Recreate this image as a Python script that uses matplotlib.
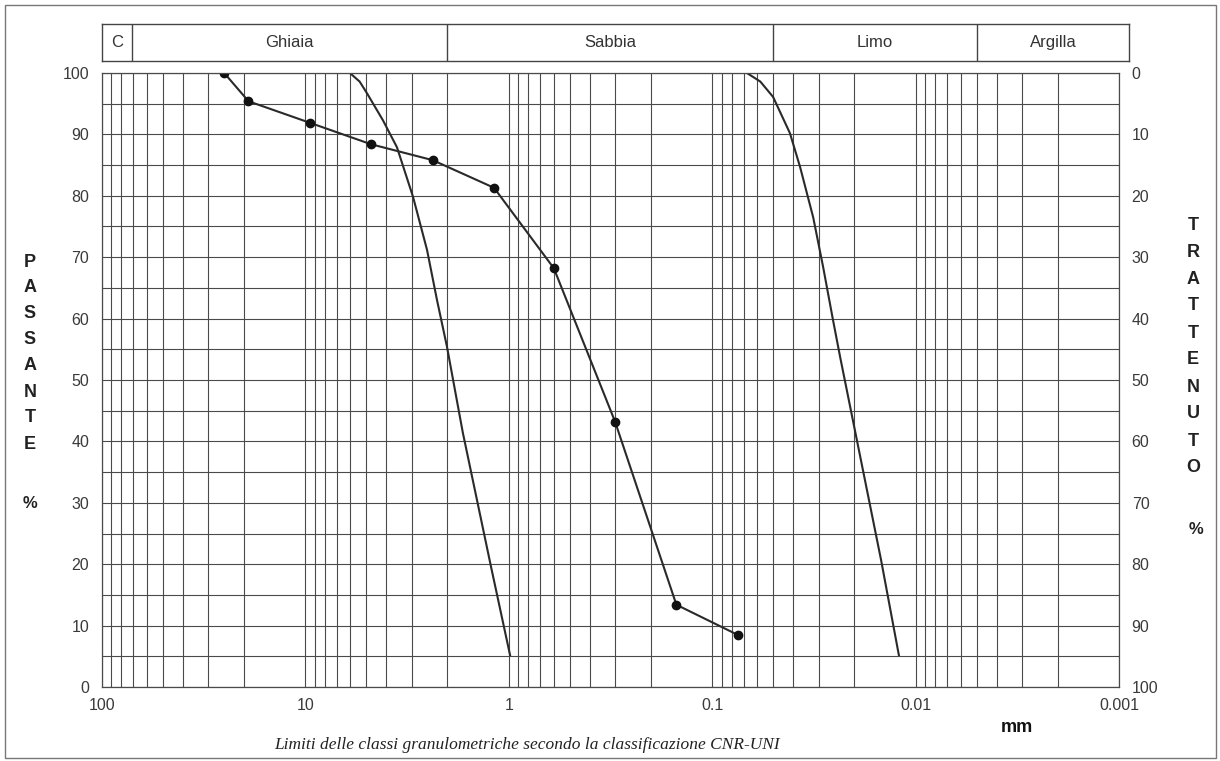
import numpy as np
import matplotlib.pyplot as plt
from matplotlib.ticker import LogLocator, FixedLocator, NullFormatter

plt.rcParams.update({
    "font.family": ["Liberation Sans", "DejaVu Sans"],
    "font.size": 11,
})

# classi granulometriche CNR-UNI (limiti in mm)
class_names = ["C", "Ghiaia", "Sabbia", "Limo", "Argilla"]
class_limits = [71, 2, 0.05, 0.005]

x_ticks = [100, 10, 1, 0.1, 0.01, 0.001]
x_labels = ["100", "10", "1", "0.1", "0.01", "0.001"]
y_ticks = list(range(0, 101, 10))

# curva granulometrica con punti (setacci)
sieve_mm = [25, 19, 9.5, 4.75, 2.36, 1.18, 0.6, 0.3, 0.15, 0.075]
sieve_pass = [100, 95.4, 91.9, 88.4, 85.8, 81.3, 68.2, 43.2, 13.4, 8.5]

# fuso sinistro
left_mm = [6.03, 5.4, 4.97, 4.15, 3.54, 2.95, 2.52, 2.25, 2.01, 1.68, 1.22, 0.985]
left_pass = [100, 98.6, 96.7, 92.3, 87.9, 79.8, 71.2, 63.0, 55.4, 41.4, 19.5, 5.2]

# fuso destro
right_mm = [0.0675, 0.058, 0.0502, 0.0415, 0.0370, 0.0319, 0.0285, 0.0255, 0.0235, 0.0148, 0.0121]
right_pass = [100, 98.6, 96.1, 90.2, 84.7, 76.5, 68.4, 59.8, 53.7, 20.7, 5.2]

W, H = 1220, 761
fig = plt.figure(figsize=(W / 100, H / 100), dpi=100)

def fx(px):
    return px / W

def fy(py):
    return 1 - py / H

# area del grafico
x0, x1 = 101.7, 1119.2
y_top, y_bot = 73, 687
ax = fig.add_axes([fx(x0), fy(y_bot), fx(x1) - fx(x0), fy(y_top) - fy(y_bot)])
ax.set_xscale("log")
ax.set_xlim(100, 0.001)
ax.set_ylim(0, 100)

grid_col = "#4a4a4a"
ax.xaxis.set_major_locator(FixedLocator(x_ticks))
ax.xaxis.set_minor_locator(LogLocator(base=10, subs=np.arange(2, 10)))
ax.xaxis.set_minor_formatter(NullFormatter())
ax.set_xticklabels(x_labels)
ax.set_yticks(y_ticks)
ax.set_yticks(np.arange(5, 100, 10), minor=True)
ax.grid(True, which="both", color=grid_col, linewidth=0.8)
ax.tick_params(which="both", length=0, colors="#3a3a3a", labelsize=11.5)
ax.tick_params(axis="x", pad=8)
ax.tick_params(axis="y", pad=9)
for s in ax.spines.values():
    s.set_color(grid_col)
    s.set_linewidth(0.9)

ax.plot(left_mm, left_pass, color="#2a2a2a", linewidth=1.5)
ax.plot(right_mm, right_pass, color="#2a2a2a", linewidth=1.5)
ax.plot(sieve_mm, sieve_pass, color="#2a2a2a", linewidth=1.5,
        marker="o", markersize=6, markerfacecolor="#111111", markeredgecolor="#111111")

# asse destro: trattenuto
ax2 = ax.twinx()
ax2.set_ylim(100, 0)
ax2.set_yticks(y_ticks)
ax2.tick_params(length=0, colors="#3a3a3a", labelsize=11.5, pad=9)
for s in ax2.spines.values():
    s.set_visible(False)

# fascia delle classi
band_right = 1129
ax_b = fig.add_axes([fx(x0), fy(61), fx(band_right) - fx(x0), fy(24) - fy(61)])
ax_b.set_xscale("log")
ax_b.set_xlim(100, 10 ** (-3 - (band_right - x1) / ((x1 - x0) / 5)))
ax_b.set_ylim(0, 1)
ax_b.set_xticks([])
ax_b.set_yticks([])
ax_b.minorticks_off()
for s in ax_b.spines.values():
    s.set_color("#444444")
    s.set_linewidth(1.0)
bounds = [100] + class_limits + [ax_b.get_xlim()[1]]
for lim in class_limits:
    ax_b.axvline(lim, color="#444444", linewidth=1.0)
for i, name in enumerate(class_names):
    xc = np.sqrt(bounds[i] * bounds[i + 1])
    ax_b.text(xc, 0.5, name, ha="center", va="center", fontsize=12, color="#333333")

# titoli degli assi verticali, lettere in colonna
for i, ch in enumerate("PASSANTE"):
    fig.text(fx(30), fy(262 + i * 26), ch, ha="center", va="center",
             fontsize=13, fontweight="bold", color="#222222")
fig.text(fx(30), fy(503), "%", ha="center", va="center",
         fontsize=12, fontweight="bold", color="#222222")
for i, ch in enumerate("TRATTENUTO"):
    fig.text(fx(1193), fy(225 + i * 27), ch, ha="center", va="center",
             fontsize=13, fontweight="bold", color="#222222")
fig.text(fx(1196), fy(530), "%", ha="center", va="center",
         fontsize=12, fontweight="bold", color="#222222")

fig.text(fx(1017), fy(728), "mm", ha="center", va="center",
         fontsize=13, fontweight="bold", color="#111111")
fig.text(fx(527), fy(745), "Limiti delle classi granulometriche secondo la classificazione CNR-UNI",
         ha="center", va="center", fontsize=12.5, style="italic",
         family=["Liberation Serif", "DejaVu Serif"], color="#222222")

# cornice
frame = plt.Rectangle((fx(5), fy(758)), fx(1216) - fx(5), fy(5) - fy(758),
                      transform=fig.transFigure, fill=False,
                      edgecolor="#777777", linewidth=1.0)
fig.patches.append(frame)

fig.savefig("out.png", dpi=100)
